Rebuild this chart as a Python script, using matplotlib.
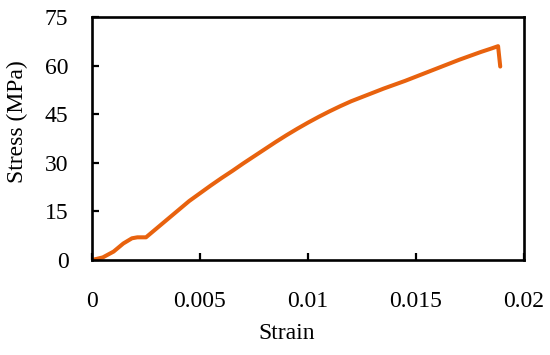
import matplotlib.pyplot as plt

# stress-strain curve
strain = [0, 0.0005, 0.001, 0.00145, 0.00185, 0.0021, 0.0025, 0.003, 0.0035,
          0.004, 0.0045, 0.005, 0.0055, 0.006, 0.0065, 0.007, 0.0075, 0.008,
          0.0085, 0.009, 0.0095, 0.01, 0.0105, 0.011, 0.0115, 0.012, 0.0125,
          0.013, 0.0135, 0.014, 0.0145, 0.015, 0.0155, 0.016, 0.0165, 0.017,
          0.0175, 0.018, 0.0185, 0.0188, 0.0189]
stress = [0, 0.8, 2.6, 5.1, 6.7, 7.0, 7.0, 9.8, 12.6, 15.4, 18.2, 20.6,
          23.0, 25.3, 27.5, 29.8, 32.0, 34.2, 36.4, 38.5, 40.5, 42.4, 44.2,
          45.9, 47.5, 49.0, 50.3, 51.6, 52.9, 54.1, 55.3, 56.6, 57.9, 59.2,
          60.5, 61.8, 63.0, 64.2, 65.3, 66.0, 59.7]
xticks = [0, 0.005, 0.01, 0.015, 0.02]
xtick_labels = ["0", "0.005", "0.01", "0.015", "0.02"]
yticks = [0, 15, 30, 45, 60, 75]

plt.rcParams["font.family"] = ["Liberation Serif", "DejaVu Serif"]
plt.rcParams["font.size"] = 17

fig = plt.figure(figsize=(5.5, 3.55), dpi=100)
ax = fig.add_axes([92 / 550, 1 - 260 / 355, 432 / 550, 243 / 355])

ax.plot(strain, stress, color="#E8620E", linewidth=2.9,
        solid_capstyle="round", solid_joinstyle="round")

ax.set_xlim(0, 0.02)
ax.set_ylim(0, 75)
ax.set_xticks(xticks)
ax.set_xticklabels(xtick_labels)
ax.set_yticks(yticks)

for s in ax.spines.values():
    s.set_linewidth(1.9)
ax.tick_params(direction="in", length=5, width=1.6, labelsize=17)
ax.tick_params(axis="x", pad=22)
ax.tick_params(axis="y", pad=17)

ax.set_xlabel("Strain", fontsize=17)
ax.set_ylabel("Stress (MPa)", fontsize=17)
ax.xaxis.set_label_coords(0.451, -0.26)
ax.yaxis.set_label_coords(-0.148, 0.568)

fig.savefig("out.png", dpi=100)
